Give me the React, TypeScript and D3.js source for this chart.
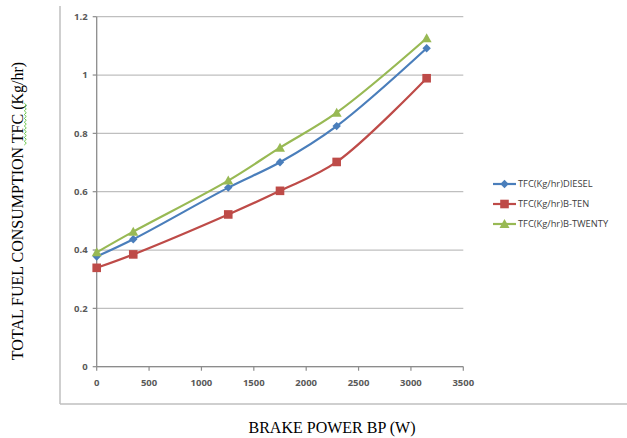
import React from "react";
import * as d3 from "d3";

const bpValues = [0, 349, 1256, 1750, 2291, 3150];
const dieselTFC = [0.378, 0.437, 0.614, 0.701, 0.825, 1.092];
const bTenTFC = [0.339, 0.385, 0.522, 0.603, 0.702, 0.989];
const bTwentyTFC = [0.392, 0.463, 0.638, 0.751, 0.871, 1.126];
const seriesNames = ["TFC(Kg/hr)DIESEL", "TFC(Kg/hr)B-TEN", "TFC(Kg/hr)B-TWENTY"];
const xTicks = [0, 500, 1000, 1500, 2000, 2500, 3000, 3500];
const yTicks = [0, 0.2, 0.4, 0.6, 0.8, 1, 1.2];

const W = 627;
const H = 438;
const colors = ["#4A7EBB", "#BE4B48", "#98B954"];
const markers = ["diamond", "square", "triangle"];

function Marker({ type, x, y, color }: { type: string; x: number; y: number; color: string }) {
  if (type === "diamond") {
    const s = 4.2;
    return <path d={`M${x},${y - s}L${x + s},${y}L${x},${y + s}L${x - s},${y}Z`} fill={color} />;
  }
  if (type === "square") {
    const s = 4.3;
    return <rect x={x - s} y={y - s} width={2 * s} height={2 * s} fill={color} />;
  }
  const s = 5;
  return <path d={`M${x},${y - s}L${x + s},${y + s * 0.8}L${x - s},${y + s * 0.8}Z`} fill={color} />;
}

export default function App() {
  const x = d3.scaleLinear().domain([0, 3500]).range([96.7, 463.3]);
  const y = d3.scaleLinear().domain([0, 1.2]).range([366.7, 16.7]);
  const line = d3
    .line<[number, number]>()
    .x((d) => x(d[0]))
    .y((d) => y(d[1]))
    .curve(d3.curveCatmullRom.alpha(0.5));
  const allSeries = [dieselTFC, bTenTFC, bTwentyTFC];
  const tickFont = "'Open Sans', 'Liberation Sans', sans-serif";
  const serif = "'Liberation Serif', 'Times New Roman', serif";
  // wavy underline under TFC (spell-check mark)
  const wavy = d3.range(0, 23).map((i) => [25.3 + (i % 2 ? 1 : -1), 145 - i * 1.9]);
  return (
    <svg width={W} height={H} style={{ position: "absolute", left: 0, top: 0, background: "#fff" }}>
      <rect x={0} y={0} width={W} height={H} fill="#fff" />
      {/* outer frame */}
      <line x1={60} y1={6} x2={60} y2={404} stroke="#BFBFBF" strokeWidth={1.5} />
      <line x1={60} y1={404} x2={627} y2={404} stroke="#BFBFBF" strokeWidth={1.5} />
      {/* gridlines */}
      {yTicks.map((t) => (
        <line key={"g" + t} x1={x(0)} x2={x(3500)} y1={y(t)} y2={y(t)} stroke="#BFBFBF" strokeWidth={1.3} />
      ))}
      {/* axes */}
      <line x1={x(0)} x2={x(0)} y1={y(1.2)} y2={y(0)} stroke="#8C8C8C" strokeWidth={1.3} />
      <line x1={x(0)} x2={x(3500)} y1={y(0)} y2={y(0)} stroke="#8C8C8C" strokeWidth={1.3} />
      {yTicks.map((t) => (
        <g key={"yt" + t}>
          <line x1={x(0) - 4} x2={x(0)} y1={y(t)} y2={y(t)} stroke="#8C8C8C" strokeWidth={1.2} />
          <text x={x(0) - 9} y={y(t)} dy="0.35em" textAnchor="end" fontFamily={tickFont} fontSize={9.5} fontWeight={700} fill="#595959">
            {t === 1 ? "1" : String(t)}
          </text>
        </g>
      ))}
      {xTicks.map((t) => (
        <g key={"xt" + t}>
          <line x1={x(t)} x2={x(t)} y1={y(0)} y2={y(0) + 4} stroke="#8C8C8C" strokeWidth={1.2} />
          <text x={x(t)} y={y(0) + 19} textAnchor="middle" fontFamily={tickFont} fontSize={9.5} fontWeight={700} fill="#595959">
            {t}
          </text>
        </g>
      ))}
      {/* series */}
      {allSeries.map((vals, si) => {
        const pts = bpValues.map((b, i) => [b, vals[i]] as [number, number]);
        return (
          <g key={"s" + si}>
            <path d={line(pts) || ""} fill="none" stroke={colors[si]} strokeWidth={2.2} />
            {pts.map((p, i) => (
              <Marker key={i} type={markers[si]} x={x(p[0])} y={y(p[1])} color={colors[si]} />
            ))}
          </g>
        );
      })}
      {/* legend */}
      {seriesNames.map((n, i) => {
        const ly = 184 + i * 20;
        return (
          <g key={"l" + i}>
            <line x1={493} x2={516} y1={ly} y2={ly} stroke={colors[i]} strokeWidth={2.2} />
            <Marker type={markers[i]} x={504.5} y={ly} color={colors[i]} />
            <text x={518} y={ly} dy="0.35em" fontFamily={tickFont} fontSize={9.3} fill="#404040">
              {n}
            </text>
          </g>
        );
      })}
      {/* axis titles */}
      <text
        transform={`translate(23,211) rotate(-90)`}
        textAnchor="middle"
        fontFamily={serif}
        fontSize={16}
        fill="#000"
      >
        TOTAL FUEL CONSUMPTION TFC (Kg/hr)
      </text>
      <path
        d={d3.line()(wavy as [number, number][]) || ""}
        fill="none"
        stroke="#5BBF3A"
        strokeWidth={0.9}
      />
      <text x={332} y={433} textAnchor="middle" fontFamily={serif} fontSize={16} fill="#000">
        BRAKE POWER BP (W)
      </text>
    </svg>
  );
}
